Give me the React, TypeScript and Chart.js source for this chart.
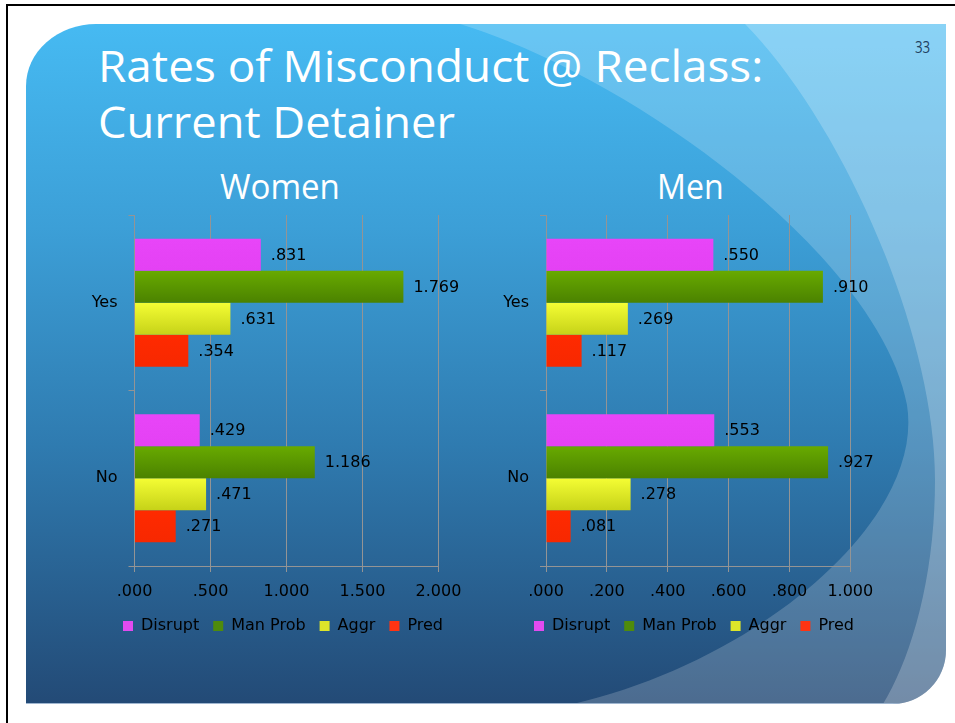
import React, { useEffect, useLayoutEffect, useRef, useState } from 'react';
import { Chart, registerables } from 'chart.js';

Chart.register(...registerables);
Chart.defaults.font.family = '"DejaVu Sans", sans-serif';

// ---- data ----
const categories = ['Yes', 'No'];
const seriesNames = ['Disrupt', 'Man Prob', 'Aggr', 'Pred'];

const womenDisrupt = [0.831, 0.429];
const womenManProb = [1.769, 1.186];
const womenAggr = [0.631, 0.471];
const womenPred = [0.354, 0.271];

const menDisrupt = [0.55, 0.553];
const menManProb = [0.91, 0.927];
const menAggr = [0.269, 0.278];
const menPred = [0.117, 0.081];

const womenTicks = [0, 0.5, 1, 1.5, 2];
const menTicks = [0, 0.2, 0.4, 0.6, 0.8, 1];

// ---- styles ----
const seriesTop = ['#e845f8', '#68aa00', '#f4fd34', '#ff2a00'];
const seriesBottom = ['#e441f4', '#4b8200', '#c6d218', '#f72800'];
const legendColors = ['#e24bf0', '#4f8b0c', '#dde52a', '#ff3412'];
const GRID = '#949494';
const CAT_PCT = 0.73;

const fmt = (v: number) => v.toFixed(3).replace(/^0/, '');

function barFill(i: number) {
  return (ctx: any) => {
    const chart = ctx.chart;
    const y = chart.scales && chart.scales.y;
    if (!y || ctx.type !== 'data') return seriesTop[i];
    const n = chart.data.labels.length;
    const cat = (y.bottom - y.top) / n;
    const size = (cat * CAT_PCT) / chart.data.datasets.length;
    const center = y.getPixelForValue(ctx.dataIndex);
    const start = center - (cat * CAT_PCT) / 2 + ctx.datasetIndex * size;
    if (!isFinite(start)) return seriesTop[i];
    const g = chart.ctx.createLinearGradient(0, start, 0, start + size);
    g.addColorStop(0, seriesTop[i]);
    g.addColorStop(1, seriesBottom[i]);
    return g;
  };
}

const valueLabels = {
  id: 'valueLabels',
  afterDatasetsDraw(chart: any) {
    const ctx = chart.ctx;
    ctx.save();
    ctx.font = '16px "DejaVu Sans", sans-serif';
    ctx.fillStyle = '#000';
    ctx.textBaseline = 'middle';
    ctx.textAlign = 'left';
    chart.data.datasets.forEach((ds: any, i: number) => {
      chart.getDatasetMeta(i).data.forEach((el: any, j: number) => {
        ctx.fillText(fmt(ds.data[j]), el.x + 10, el.y + 1);
      });
    });
    ctx.restore();
  },
};

// centre the legend on the whole canvas rather than the padded layout area
const legendCenter = {
  id: 'legendCenter',
  afterLayout(chart: any) {
    const lg = chart.legend;
    if (lg) {
      lg.left = 0;
      lg.right = chart.width;
    }
  },
};

type PanelProps = {
  left: number;
  top: number;
  width: number;
  height: number;
  yWidth: number;
  padRight: number;
  series: number[][];
  ticks: number[];
};

function BarPanel({ left, top, width, height, yWidth, padRight, series, ticks }: PanelProps) {
  const ref = useRef<HTMLCanvasElement>(null);
  useEffect(() => {
    const chart = new Chart(ref.current as HTMLCanvasElement, {
      type: 'bar',
      data: {
        labels: categories,
        datasets: series.map((d, i) => ({
          label: seriesNames[i],
          data: d,
          backgroundColor: barFill(i) as any,
          borderWidth: 0,
          categoryPercentage: CAT_PCT,
          barPercentage: 1,
        })),
      },
      options: {
        indexAxis: 'y',
        responsive: false,
        animation: false,
        devicePixelRatio: 1,
        layout: { padding: { top: 10, right: padRight, left: 0, bottom: 0 } },
        plugins: {
          tooltip: { enabled: false },
          legend: {
            position: 'bottom',
            labels: {
              boxWidth: 10,
              boxHeight: 10,
              padding: 14,
              color: '#c2f2c6',
              font: { size: 16 },
              generateLabels: () =>
                seriesNames.map((n, i) => ({
                  text: n,
                  fillStyle: legendColors[i],
                  strokeStyle: legendColors[i],
                  lineWidth: 0,
                  hidden: false,
                  datasetIndex: i,
                })) as any,
            },
          },
        },
        scales: {
          x: {
            type: 'linear',
            min: ticks[0],
            max: ticks[ticks.length - 1],
            afterBuildTicks: (s: any) => {
              s.ticks = ticks.map((v) => ({ value: v }));
            },
            afterFit: (s: any) => {
              s.height = 38;
            },
            grid: { color: GRID, tickLength: 6, lineWidth: 1 },
            border: { color: GRID },
            ticks: {
              color: '#000',
              font: { size: 16 },
              padding: 10,
              maxRotation: 0,
              callback: (v: any) => fmt(Number(v)),
            },
          },
          y: {
            afterFit: (s: any) => {
              s.width = yWidth;
              s.paddingTop = 0;
              s.paddingBottom = 0;
            },
            grid: { offset: true, drawOnChartArea: false, tickLength: 6, color: GRID },
            border: { color: GRID },
            ticks: { color: '#000', font: { size: 16 }, padding: 11 },
          },
        },
      },
      plugins: [valueLabels, legendCenter],
    });
    return () => chart.destroy();
  }, []);
  return (
    <canvas
      ref={ref}
      width={width}
      height={height}
      style={{ position: 'absolute', left, top, width, height }}
    />
  );
}

type FitProps = {
  text: string;
  left: number;
  top: number;
  width: number;
  size: number;
  color: string;
};

function FitText({ text, left, top, width, size, color }: FitProps) {
  const ref = useRef<HTMLSpanElement>(null);
  const [sx, setSx] = useState(1);
  useLayoutEffect(() => {
    if (ref.current) {
      const w = ref.current.offsetWidth;
      if (w) setSx(width / w);
    }
  }, [text, width, size]);
  return (
    <span
      ref={ref}
      style={{
        position: 'absolute',
        left,
        top,
        fontSize: size,
        lineHeight: 1,
        fontFamily: '"Open Sans", sans-serif',
        color,
        whiteSpace: 'nowrap',
        transform: `scaleX(${sx})`,
        transformOrigin: 'left top',
      }}
    >
      {text}
    </span>
  );
}

export default function App() {
  const panel =
    'M 26 704 L 26 86 A 70 62 0 0 1 96 24 L 946 24 L 946 650 A 54 54 0 0 1 892 704 Z';
  const band1 =
    'M 460 24 C 640 80 880 260 907 405 C 925 520 760 660 573 704 L 946 704 L 946 24 Z';
  const band2 =
    'M 745 24 C 840 120 935 330 935 480 C 935 580 910 660 883 704 L 946 704 L 946 24 Z';
  return (
    <div
      style={{
        position: 'absolute',
        left: 0,
        top: 0,
        width: 955,
        height: 723,
        overflow: 'hidden',
        background: '#fff',
      }}
    >
      <div
        style={{
          position: 'absolute',
          left: 6,
          top: 4,
          width: 1200,
          height: 1200,
          borderTop: '2px solid #000',
          borderLeft: '2px solid #000',
        }}
      />
      <svg
        width={955}
        height={723}
        style={{ position: 'absolute', left: 0, top: 0 }}
      >
        <defs>
          <linearGradient id="bg" x1="0" y1="24" x2="0" y2="704" gradientUnits="userSpaceOnUse">
            <stop offset="0" stopColor="#46baf2" />
            <stop offset="0.3" stopColor="#3c9fd7" />
            <stop offset="0.62" stopColor="#2f7bb0" />
            <stop offset="1" stopColor="#234a76" />
          </linearGradient>
          <clipPath id="clip">
            <path d={panel} />
          </clipPath>
        </defs>
        <path d={panel} fill="url(#bg)" />
        <g clipPath="url(#clip)">
          <path d={band1} fill="#ffffff" fillOpacity={0.19} />
          <path d={band2} fill="#ffffff" fillOpacity={0.22} />
          <line x1={26} y1={703.5} x2={900} y2={703.5} stroke="#9fb6d0" strokeWidth={1} />
        </g>
      </svg>

      <FitText text="Rates of Misconduct @ Reclass:" left={98} top={43} width={665} size={44} color="#fff" />
      <FitText text="Current Detainer" left={98} top={99} width={357} size={44} color="#fff" />
      <FitText text="Women" left={220} top={168} width={120} size={35} color="#fff" />
      <FitText text="Men" left={657} top={168} width={67} size={35} color="#fff" />
      <FitText text="33" left={915} top={39} width={15} size={16} color="#21405f" />

      <BarPanel
        left={68}
        top={205}
        width={430}
        height={439}
        yWidth={66.5}
        padRight={59.5}
        series={[womenDisrupt, womenManProb, womenAggr, womenPred]}
        ticks={womenTicks}
      />
      <BarPanel
        left={479}
        top={205}
        width={430}
        height={439}
        yWidth={67}
        padRight={58.7}
        series={[menDisrupt, menManProb, menAggr, menPred]}
        ticks={menTicks}
      />
    </div>
  );
}
